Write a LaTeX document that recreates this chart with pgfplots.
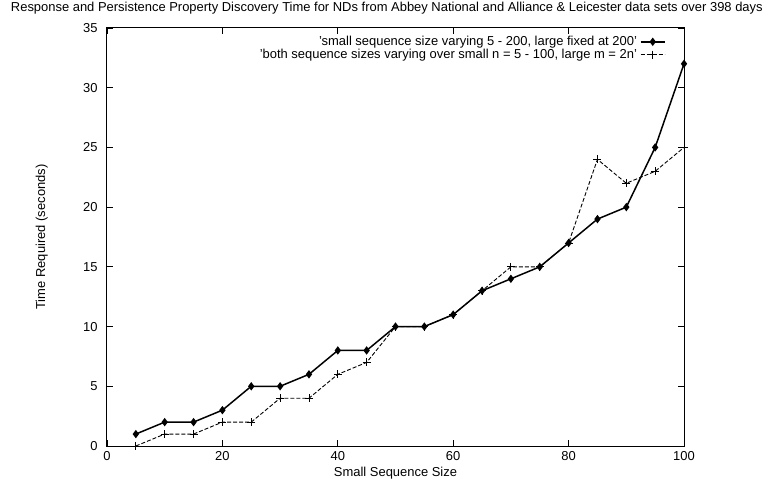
\documentclass[border=0pt]{standalone}
\usepackage{fontspec}
\setmainfont{Liberation Sans}
\usepackage{pgfplots}
\pgfplotsset{compat=1.18}
\begin{document}
\begin{tikzpicture}
\path[use as bounding box] (-107bp,-35bp) rectangle (661bp,446bp);
\begin{axis}[
  at={(0,0)}, anchor=south west,
  scale only axis, width=577bp, height=418bp,
  xmin=0, xmax=100, ymin=0, ymax=35,
  xtick={0,20,...,100}, ytick={0,5,...,35},
  tick align=inside, tick pos=both, major tick length=6bp,
  font=\fontsize{13}{14}\selectfont,
  /pgf/number format/assume math mode=true,
  xticklabel style={yshift=-2bp},
  yticklabel style={xshift=-6bp},
  axis line style={line width=1pt},
  every tick/.style={line width=0.8pt},
  every axis title shift=0pt,
  title={Response and Persistence Property Discovery Time for NDs from Abbey National and Alliance \& Leicester data sets over 398 days},
  title style={at={(axis description cs:0.485,1.048)}, anchor=center},
  xlabel={Small Sequence Size},
  xlabel style={at={(axis description cs:0.5,-0.064)}, anchor=center},
  ylabel={Time Required (seconds)},
  ylabel style={at={(axis description cs:-0.113,0.5)}, anchor=center},
  legend style={draw=none, fill=none, at={(axis description cs:0.97,0.985)}, anchor=north east,
    legend plot pos=right, row sep=0pt, inner sep=1bp,
    nodes={inner xsep=3bp, inner ysep=0.6bp, text height=9.5bp, text depth=2bp},
    font=\fontsize{13}{14}\selectfont},
  legend cell align=right,
  legend image code/.code={
    \draw[mark repeat=2, mark phase=2, #1] plot coordinates {(0bp,0bp) (12bp,0bp) (24bp,0bp)};
  },
]
\addplot[black, line width=1.5pt, mark=diamond*, mark size=3bp, mark options={solid}] coordinates {
  (5,1) (10,2) (15,2) (20,3) (25,5) (30,5) (35,6) (40,8) (45,8) (50,10)
  (55,10) (60,11) (65,13) (70,14) (75,15) (80,17) (85,19) (90,20) (95,25) (100,32)
};
\addlegendentry{'small sequence size varying 5 - 200, large fixed at 200'}
\addplot[black, line width=0.9pt, dash pattern=on 4bp off 2bp, mark=+, mark size=4bp, mark options={solid}] coordinates {
  (5,0) (10,1) (15,1) (20,2) (25,2) (30,4) (35,4) (40,6) (45,7) (50,10)
  (55,10) (60,11) (65,13) (70,15) (75,15) (80,17) (85,24) (90,22) (95,23) (100,25)
};
\addlegendentry{'both sequence sizes varying over small n = 5 - 100, large m = 2n'}
\end{axis}
\end{tikzpicture}
\end{document}
